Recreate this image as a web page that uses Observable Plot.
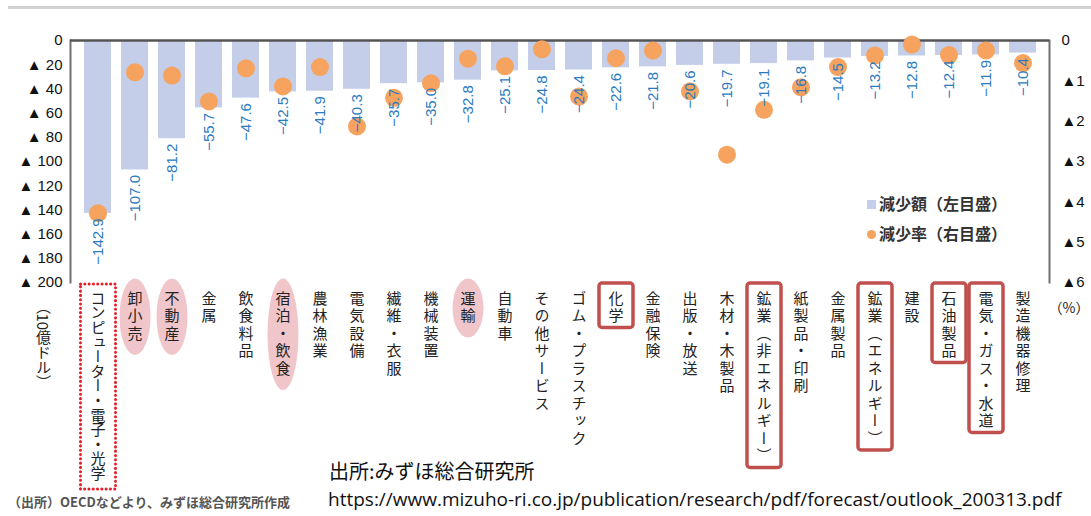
<!DOCTYPE html>
<html>
<head>
<meta charset="utf-8">
<script src="https://cdn.jsdelivr.net/npm/d3@7"></script>
<script src="https://cdn.jsdelivr.net/npm/@observablehq/plot@0.6"></script>
<style>
  html, body { margin: 0; padding: 0; background: #fff; }
  #wrap { position: relative; width: 1091px; height: 516px; overflow: hidden; font-family: "Noto Sans CJK JP", sans-serif; }
  #topline { position: absolute; left: 8px; top: 6px; width: 1083px; height: 3px; background: #d2d2d2; }
  #chart { position: absolute; left: 0; top: 0; }
  .legend { position: absolute; left: 867px; top: 188px; font-size: 16px; font-weight: 700; color: #333; line-height: 30px; }
  .legend .sw { display: inline-block; width: 9px; height: 9px; margin-right: 3px; vertical-align: 1px; }
  .cap1 { position: absolute; left: 329px; top: 461px; font-size: 20px; color: #111; white-space: nowrap; line-height: 1; }
  .cap2 { position: absolute; left: 328px; top: 490px; font-size: 19px; color: #111; white-space: nowrap; line-height: 1; font-family: "Open Sans", "Noto Sans", sans-serif; }
  .cap3 { position: absolute; left: 8px; top: 495px; font-size: 13px; font-weight: 700; color: #555; white-space: nowrap; line-height: 1; }
</style>
</head>
<body>
<div id="wrap">
  <div id="topline"></div>
  <div id="chart"></div>
  <div class="legend">
    <div><span class="sw" style="background:#c4cee9"></span>減少額（左目盛）</div>
    <div><span class="sw" style="background:#f5a35f;border-radius:50%"></span>減少率（右目盛）</div>
  </div>
  <div class="cap1">出所:みずほ総合研究所</div>
  <div class="cap2">https://www.mizuho-ri.co.jp/publication/research/pdf/forecast/outlook_200313.pdf</div>
  <div class="cap3">（出所）OECDなどより、みずほ総合研究所作成</div>
</div>
<script>
// ---- data ----
const categories = [
  "コンピューター・電子・光学", "卸小売", "不動産", "金属", "飲食料品", "宿泊・飲食",
  "農林漁業", "電気設備", "繊維・衣服", "機械装置", "運輸", "自動車", "その他サービス",
  "ゴム・プラスチック", "化学", "金融保険", "出版・放送", "木材・木製品",
  "鉱業（非エネルギー）", "紙製品・印刷", "金属製品", "鉱業（エネルギー）", "建設",
  "石油製品", "電気・ガス・水道", "製造機器修理"
];
// decrease amount (billion USD, left scale)
const amounts = [142.9, 107.0, 81.2, 55.7, 47.6, 42.5, 41.9, 40.3, 35.7, 35.0, 32.8, 25.1, 24.8,
  24.4, 22.6, 21.8, 20.6, 19.7, 19.1, 16.8, 14.5, 13.2, 12.8, 12.4, 11.9, 10.4];
// decrease rate (%, right scale)
const rates = [4.28, 0.79, 0.87, 1.51, 0.69, 1.14, 0.66, 2.13, 1.42, 1.06, 0.45, 0.64, 0.22,
  1.39, 0.44, 0.25, 1.26, 2.83, 1.72, 1.16, 0.66, 0.37, 0.10, 0.36, 0.25, 0.56];
const leftTicks = [0, 20, 40, 60, 80, 100, 120, 140, 160, 180, 200];
const rightTicks = [0, 1, 2, 3, 4, 5, 6];
const leftMax = 200, rightMax = 6;
const unitLeft = "（10億ドル）";
const unitRight = "（%）";
const dottedBox = ["コンピューター・電子・光学"];
const pinkOvals = ["卸小売", "不動産", "宿泊・飲食", "運輸"];
const redBoxes = ["化学", "鉱業（非エネルギー）", "鉱業（エネルギー）", "石油製品", "電気・ガス・水道"];

const rows = categories.map((c, i) => ({cat: c, amount: amounts[i], rate: rates[i]}));
const toLeft = v => v * leftMax / rightMax;

const jp = "'Noto Sans CJK JP', sans-serif";
const plot = Plot.plot({
  width: 1091, height: 516,
  marginLeft: 70, marginRight: 42, marginTop: 40, marginBottom: 234,
  x: {domain: categories, paddingInner: 0.28, paddingOuter: 0.14, axis: null},
  y: {domain: [0, leftMax], reverse: true, axis: null},
  style: {fontFamily: "'Liberation Sans', Arial, sans-serif", background: "transparent", overflow: "visible"},
  marks: [
    Plot.barY(rows, {x: "cat", y: "amount", fill: "#c4cee9"}),
    Plot.frame({anchor: "left", stroke: "#707070", strokeWidth: 2}),
    Plot.frame({anchor: "right", stroke: "#707070", strokeWidth: 2}),
    Plot.ruleY([0], {stroke: "#555", strokeWidth: 2.5}),
    Plot.axisY(leftTicks, {anchor: "left", label: null, tickSize: 0, tickPadding: 8, fontSize: 15, fill: "#111",
      tickFormat: d => d === 0 ? "0" : "▲ " + d}),
    Plot.axisY(rightTicks.map(toLeft), {anchor: "right", label: null, tickSize: 0, tickPadding: 12, fontSize: 15, fill: "#111",
      tickFormat: d => { const p = Math.round(d * rightMax / leftMax); return p === 0 ? "0" : "▲" + p; }}),
    Plot.dot(rows, {x: "cat", y: d => toLeft(d.rate), r: 9, fill: "#f5a35f", stroke: "none"}),
    Plot.text(rows, {x: "cat", y: "amount", text: d => "−" + d.amount.toFixed(1), rotate: -90,
      textAnchor: "end", dy: 5, fill: "#2b7bbf", fontSize: 15}),
    Plot.text(categories, {x: d => d, frameAnchor: "bottom", dy: 8, textAnchor: "start", lineAnchor: "bottom",
      fontSize: 15, fill: "#222", fontFamily: jp}),
    Plot.text([unitLeft], {frameAnchor: "bottom-left", dx: -27, dy: 16, textAnchor: "start", lineAnchor: "bottom",
      fontSize: 15, fill: "#222", fontFamily: jp}),
    Plot.text([unitRight], {frameAnchor: "bottom-right", dx: -1, dy: 30, textAnchor: "start", lineAnchor: "bottom",
      fontSize: 14, fill: "#222", fontFamily: jp})
  ]
});
document.getElementById("chart").appendChild(plot);

// vertical (tategaki) labels
const catNodes = new Map();
plot.querySelectorAll("text").forEach(t => {
  const s = t.textContent;
  if (categories.includes(s)) {
    t.style.writingMode = "vertical-rl";
    t.style.letterSpacing = "2.5px";
    catNodes.set(s, t);
  } else if (s === unitLeft) {
    t.style.writingMode = "vertical-rl";
  }
});
// keep the longest label within the available depth
const maxLen = 190;
catNodes.forEach((t, s) => {
  const r = t.getBoundingClientRect();
  if (r.height > maxLen) {
    const n = [...s].length;
    const base = r.height - n * 2.5;
    t.style.letterSpacing = ((maxLen - base) / n) + "px";
  }
});

const svgRect = plot.getBoundingClientRect();
function box(name) {
  const r = catNodes.get(name).getBoundingClientRect();
  return {x: r.left - svgRect.left, y: r.top - svgRect.top, w: r.width, h: r.height};
}
const svg = d3.select(plot);
const back = svg.insert("g", ":first-child");
pinkOvals.forEach(n => {
  const b = box(n);
  back.append("ellipse").attr("cx", b.x + b.w / 2).attr("cy", b.y + b.h / 2)
    .attr("rx", b.w / 2 + 5).attr("ry", b.h / 2 + 12).attr("fill", "#f0c6ca");
});
const front = svg.append("g");
redBoxes.forEach(n => {
  const b = box(n);
  const cx = b.x + b.w / 2, top = 283, bottom = b.y + b.h + 2;
  front.append("rect").attr("x", cx - 17).attr("y", top).attr("width", 34).attr("height", bottom - top)
    .attr("rx", 3).attr("fill", "none").attr("stroke", "#c0504d").attr("stroke-width", 3.5);
});
dottedBox.forEach(n => {
  const b = box(n);
  const cx = b.x + b.w / 2, top = 284, bottom = b.y + b.h + 8;
  front.append("rect").attr("x", cx - 17.5).attr("y", top).attr("width", 35).attr("height", bottom - top)
    .attr("fill", "none").attr("stroke", "#e3202a").attr("stroke-width", 3)
    .attr("stroke-dasharray", "0.1 4.2").attr("stroke-linecap", "round");
});
</script>
</body>
</html>
